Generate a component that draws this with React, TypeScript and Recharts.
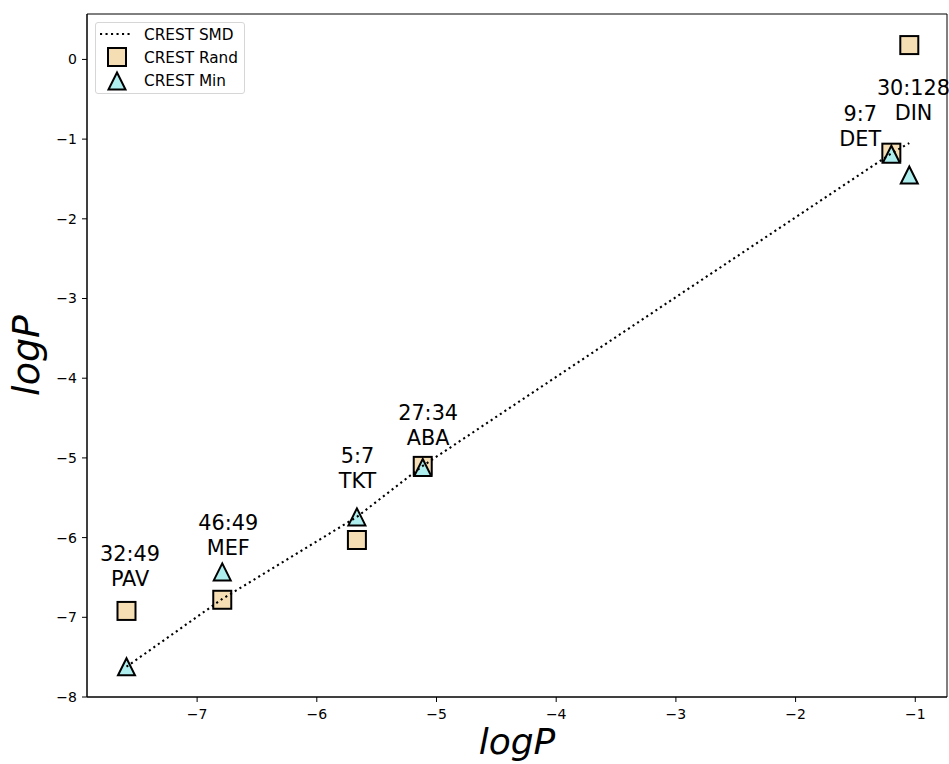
import { ScatterChart, Scatter, XAxis, YAxis, ReferenceArea } from "recharts";

// compounds along the x axis (reference logP) and the three CREST estimates
const compounds = ["PAV", "MEF", "TKT", "ABA", "DET", "DIN"];
const ratios = ["32:49", "46:49", "5:7", "27:34", "9:7", "30:128"];
const logPRef = [-7.59, -6.79, -5.665, -5.115, -1.2, -1.05];
const crestSmd = [-7.62, -6.77, -5.74, -5.1, -1.18, -1.05];
const crestRand = [-6.92, -6.78, -6.03, -5.1, -1.17, 0.18];
const crestMin = [-7.62, -6.43, -5.74, -5.12, -1.19, -1.45];
// where each compound's annotation sits (data coords, centre of the text block)
const labelX = [-7.56, -6.74, -5.66, -5.07, -1.46, -1.015];
const labelY = [-6.36, -5.96, -5.12, -4.58, -0.84, -0.51];

const xTicks = [-7, -6, -5, -4, -3, -2, -1];
const yTicks = [-8, -7, -6, -5, -4, -3, -2, -1, 0];
const xDomain = [-7.92, -0.735];
const yDomain = [-8.0, 0.57];

const FONT = "DejaVu Sans, sans-serif";
const RAND_FILL = "#F5DEB3";
const MIN_FILL = "#AFEEEE";

const smdData = logPRef.map((x, i) => ({ x, y: crestSmd[i] }));
const randData = logPRef.map((x, i) => ({ x, y: crestRand[i] }));
const minData = logPRef.map((x, i) => ({ x, y: crestMin[i] }));
const labelData = compounds.map((c, i) => ({
  x: labelX[i],
  y: labelY[i],
  top: ratios[i],
  bottom: c,
}));

const fmt = (v: number) => String(v).replace("-", "\u2212");

const Square = (props: any) => {
  const { cx, cy } = props;
  return (
    <rect x={cx - 9} y={cy - 9} width={18} height={18} fill={RAND_FILL} stroke="#000" strokeWidth={2} />
  );
};

const Triangle = (props: any) => {
  const { cx, cy } = props;
  const h = 8.5;
  return (
    <path
      d={`M${cx},${cy - h}L${cx + h},${cy + h}L${cx - h},${cy + h}Z`}
      fill={MIN_FILL}
      stroke="#000"
      strokeWidth={2}
      strokeLinejoin="miter"
    />
  );
};

const NoDot = () => <g />;

const Annotation = (props: any) => {
  const { cx, cy, payload } = props;
  return (
    <text textAnchor="middle" fontSize={20.8} fontFamily={FONT} fill="#000">
      <tspan x={cx} y={cy - 4.9}>{payload.top}</tspan>
      <tspan x={cx} y={cy + 20.1}>{payload.bottom}</tspan>
    </text>
  );
};

const LegendBox = () => (
  <div
    style={{
      position: "absolute",
      left: 95,
      top: 22,
      width: 150,
      height: 72,
      boxSizing: "border-box",
      border: "1px solid #d6d6d6",
      borderRadius: 3,
      background: "rgba(255,255,255,0.8)",
    }}
  >
    <svg width={150} height={72} style={{ position: "absolute", left: -1, top: -1 }}>
      <line x1={5} x2={37} y1={12} y2={12} stroke="#000" strokeWidth={2.1} strokeDasharray="2.1 3.4" />
      <rect x={13} y={26} width={18} height={18} fill={RAND_FILL} stroke="#000" strokeWidth={2} />
      <path d="M22,50.5L30.5,67.5L13.5,67.5Z" fill={MIN_FILL} stroke="#000" strokeWidth={2} />
      <g fontFamily={FONT} fontSize={15.3} fill="#000">
        <text x={49} y={17.5}>CREST SMD</text>
        <text x={49} y={40.5}>CREST Rand</text>
        <text x={49} y={63.5}>CREST Min</text>
      </g>
    </svg>
  </div>
);

export default function App() {
  return (
    <div style={{ position: "absolute", left: 0, top: 0, width: 949, height: 764, background: "#fff", overflow: "hidden" }}>
      <ScatterChart
        width={949}
        height={764}
        margin={{ top: 14, right: 2, bottom: 0, left: 0 }}
        style={{ fontFamily: FONT }}
      >
        <XAxis
          type="number"
          dataKey="x"
          domain={xDomain}
          ticks={xTicks}
          tickFormatter={fmt}
          height={67}
          tickSize={5}
          tickMargin={7}
          tick={{ fontSize: 14, fill: "#000", fontFamily: FONT }}
          tickLine={{ stroke: "#000" }}
          axisLine={{ stroke: "#000" }}
          label={{
            value: "logP",
            position: "insideBottom",
            offset: 10,
            style: { fontSize: 36, fontStyle: "italic", fill: "#000", fontFamily: FONT },
          }}
        />
        <YAxis
          type="number"
          dataKey="y"
          domain={yDomain}
          ticks={yTicks}
          tickFormatter={fmt}
          width={87}
          tickSize={5}
          tickMargin={5}
          tick={{ fontSize: 14, fill: "#000", fontFamily: FONT }}
          tickLine={{ stroke: "#000" }}
          axisLine={{ stroke: "#000" }}
          label={{
            value: "logP",
            angle: -90,
            position: "insideLeft",
            offset: 26,
            style: { textAnchor: "middle", fontSize: 38, fontStyle: "italic", fill: "#000", fontFamily: FONT },
          }}
        />
        <ReferenceArea
          x1={xDomain[0]}
          x2={xDomain[1]}
          y1={yDomain[0]}
          y2={yDomain[1]}
          fill="none"
          stroke="#000"
          strokeWidth={1}
          ifOverflow="visible"
        />
        <Scatter name="CREST Rand" data={randData} shape={Square} isAnimationActive={false} />
        <Scatter name="CREST Min" data={minData} shape={Triangle} isAnimationActive={false} />
        <Scatter
          name="CREST SMD"
          data={smdData}
          shape={NoDot}
          line={{ stroke: "#000", strokeWidth: 2.1, strokeDasharray: "2.1 3.4" }}
          lineType="joint"
          isAnimationActive={false}
        />
        <Scatter name="labels" data={labelData} shape={Annotation} isAnimationActive={false} />
      </ScatterChart>
      <LegendBox />
    </div>
  );
}
